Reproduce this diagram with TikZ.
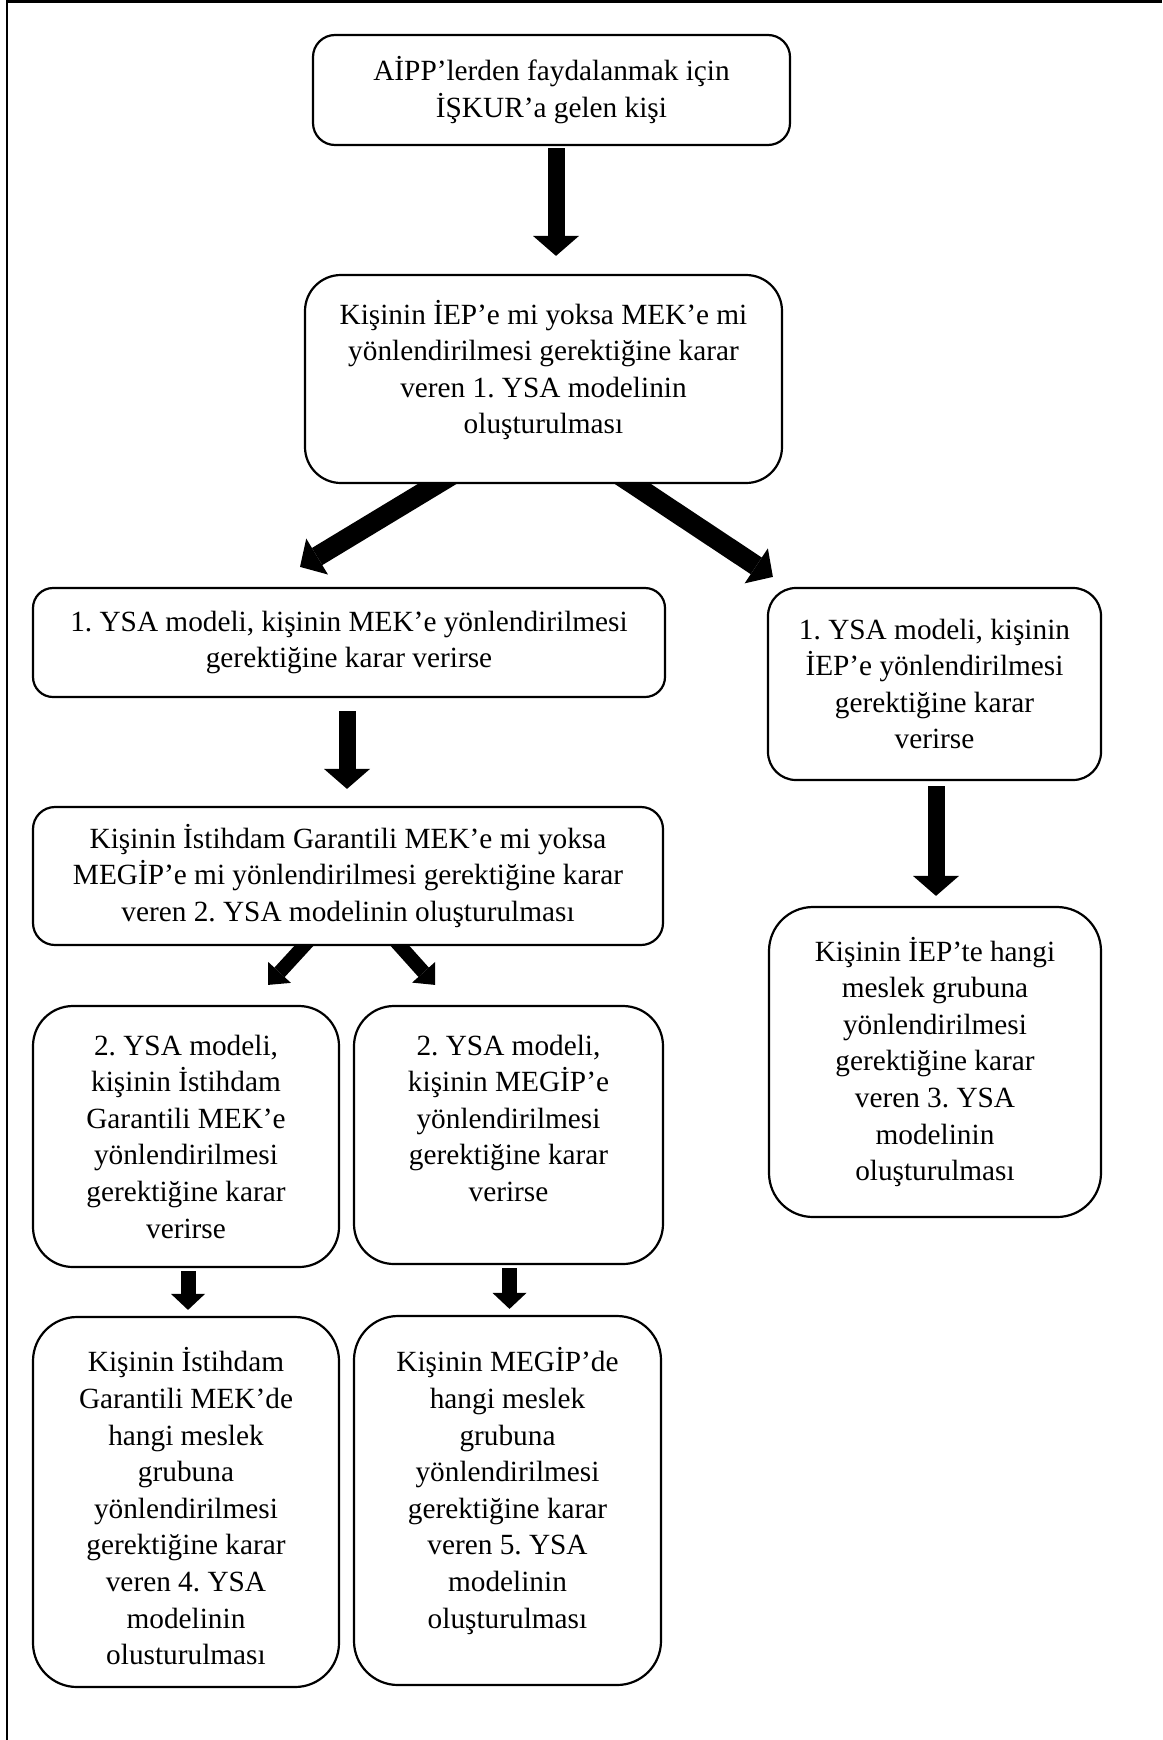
\documentclass[tikz,border=0pt]{standalone}
\usepackage{fontspec}
\setmainfont{Liberation Serif}
\usetikzlibrary{arrows.meta,backgrounds}
\frenchspacing
\begin{document}
\begin{tikzpicture}[x=0.5pt,y=-0.5pt,
  stepbox/.style={draw, line width=1.1pt, fill=white, rounded corners=#1,
    inner sep=0pt, align=center, font=\fontsize{14.65pt}{18.3pt}\selectfont},
  stepbox/.default=12pt,
  txt/.style={inner sep=0pt, align=center, font=\fontsize{14.65pt}{18.3pt}\selectfont},
  bigdown/.style={line width=8.5pt, -{Triangle[length=10pt, width=23pt, line width=0pt]}},
  bigslant/.style={line width=10pt, -{Triangle[length=10pt, width=21pt, line width=0pt]}},
  smallslant/.style={line width=7pt, -{Triangle[length=8.5pt, width=15.5pt, line width=0pt]}},
  smalldown/.style={line width=7.5pt, -{Triangle[length=8pt, width=17pt, line width=0pt]}}]

\useasboundingbox (0,0) rectangle (1162,1740);

% page frame (left and top edges only)
\draw[line width=1.25pt] (7,1740) -- (7,1.5) -- (1162,1.5);

% boxes
\node[stepbox=11pt, minimum width=238.5pt, minimum height=55pt] (b1) at (551.5,90)
  {AİPP’lerden faydalanmak için\\İŞKUR’a gelen kişi};
\node[stepbox=18pt, minimum width=238.5pt, minimum height=104pt] (b2) at (543.5,379) {};
\node[txt] (b2txt) at ([yshift=4.5pt]b2.center)
  {Kişinin İEP’e mi yoksa MEK’e mi\\yönlendirilmesi gerektiğine karar\\veren 1. YSA modelinin\\oluşturulması};
\node[stepbox=10pt, minimum width=316pt, minimum height=54.5pt] (mek1) at (349,642.5)
  {1. YSA modeli, kişinin MEK’e yönlendirilmesi\\gerektiğine karar verirse};
\node[stepbox=14pt, minimum width=166.5pt, minimum height=96pt] (iep1) at (934.5,684)
  {1. YSA modeli, kişinin\\İEP’e yönlendirilmesi\\gerektiğine karar\\verirse};
\node[stepbox=11pt, minimum width=315pt, minimum height=69pt] (mek2) at (348,876)
  {Kişinin İstihdam Garantili MEK’e mi yoksa\\MEGİP’e mi yönlendirilmesi gerektiğine karar\\veren 2. YSA modelinin oluşturulması};
\node[stepbox=22pt, minimum width=166pt, minimum height=155pt] (iep3) at (935,1062)
  {Kişinin İEP’te hangi\\meslek grubuna\\yönlendirilmesi\\gerektiğine karar\\veren 3. YSA\\modelinin\\oluşturulması};

\node[stepbox=20pt, minimum width=153pt, minimum height=130.5pt] (y2a) at (186,1136.5) {};
\node[txt] (y2atxt) at (y2a.center)
  {2. YSA modeli,\\kişinin İstihdam\\Garantili MEK’e\\yönlendirilmesi\\gerektiğine karar\\verirse};
\node[stepbox=20pt, minimum width=154.5pt, minimum height=129pt] (y2b) at (508.5,1135) {};
\node[txt, anchor=north] (y2btxt) at (y2b.center |- y2atxt.north)
  {2. YSA modeli,\\kişinin MEGİP’e\\yönlendirilmesi\\gerektiğine karar\\verirse};

\node[stepbox=22pt, minimum width=153pt, minimum height=185pt] (y4) at (186,1502) {};
\node[txt] (y4txt) at ([yshift=-2.2pt]y4.center)
  {Kişinin İstihdam\\Garantili MEK’de\\hangi meslek\\grubuna\\yönlendirilmesi\\gerektiğine karar\\veren 4. YSA\\modelinin\\olusturulması};
\node[stepbox=22pt, minimum width=153.5pt, minimum height=184.5pt] (y5) at (507.5,1500.5) {};
\node[txt, anchor=north] (y5txt) at (y5.center |- y4txt.north)
  {Kişinin MEGİP’de\\hangi meslek\\grubuna\\yönlendirilmesi\\gerektiğine karar\\veren 5. YSA\\modelinin\\oluşturulması};

% block arrows, kept behind the boxes
\begin{scope}[on background layer]
  \draw[bigdown] ([shift={(4.5,2)}]b1.south) -- ([shift={(12.5,-18)}]b2.north);
  \draw[bigslant] ([shift={(-90,-10)}]b2.south) -- ([shift={(-49,-20)}]mek1.north);
  \draw[bigslant] ([shift={(74.5,-10)}]b2.south) -- ([shift={(6,-10)}]iep1.north west);
  \draw[bigdown] ([shift={(-2,13)}]mek1.south) -- ([shift={(-1,-17)}]mek2.north);
  \draw[bigdown] ([shift={(1.5,5)}]iep1.south) -- ([shift={(1,-10)}]iep3.north);
  \draw[smallslant] ([shift={(-37,-8)}]mek2.south) -- ([shift={(82,-20)}]y2a.north);
  \draw[smallslant] ([shift={(45,-8)}]mek2.south) -- ([shift={(-73.5,-20)}]y2b.north);
  \draw[smalldown] ([shift={(2,3)}]y2a.south) -- ([shift={(2,-6)}]y4.north);
  \draw[smalldown] ([shift={(1,3)}]y2b.south) -- ([shift={(2,-6)}]y5.north);
\end{scope}
\end{tikzpicture}
\end{document}
